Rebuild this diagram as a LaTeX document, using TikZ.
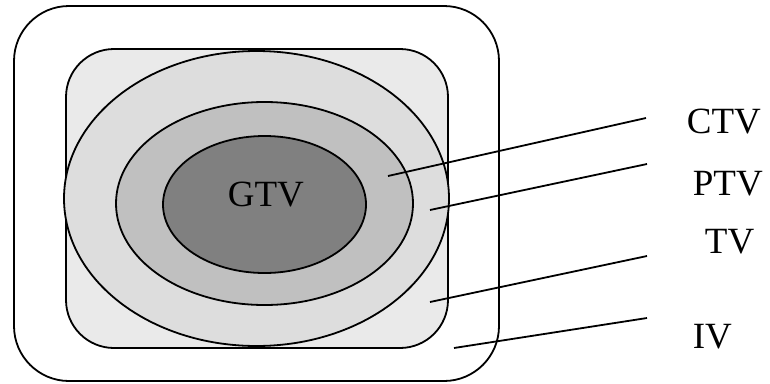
\documentclass[tikz,border=0pt]{standalone}
\usepackage{fontspec}
\setmainfont{Liberation Serif}
\usepackage{tikz}
\definecolor{zonetv}{RGB}{234,234,234}
\definecolor{zonectv}{RGB}{221,221,221}
\definecolor{zoneptv}{RGB}{192,192,192}
\definecolor{zonegtv}{RGB}{128,128,128}
\tikzset{lbl/.style={anchor=base west,inner sep=0pt,font=\fontsize{37}{40}\selectfont}}
\begin{document}
\begin{tikzpicture}[x=1pt,y=-1pt,line width=1.8pt]
\useasboundingbox (0,0) rectangle (770,383);
\draw [rounded corners=55pt, fill=white] (14,6) rectangle (499,381);
\draw [rounded corners=48pt, fill=zonetv] (66,49) rectangle (448,348);
\draw [fill=zonectv] (256.5,198.5) ellipse [x radius=192.5pt, y radius=147.5pt];
\draw [fill=zoneptv] (264.5,203.5) ellipse [x radius=148.5pt, y radius=101.5pt];
\draw [fill=zonegtv] (264.5,204.5) ellipse [x radius=101.5pt, y radius=68.5pt];
\node [lbl] (gtv) at (227,206) {GTV};
\node [lbl] (ctv) at (686,133) {CTV};
\node [lbl] (ptv) at (692,195) {PTV};
\node [lbl] (tv) at (704,253) {TV};
\node [lbl] (iv) at (692,348) {IV};
\coordinate (ctvin) at (388,176);
\coordinate (ctvend) at (646,118);
\coordinate (ptvin) at (430,210);
\coordinate (ptvend) at (647,164);
\coordinate (tvin) at (430,302);
\coordinate (tvend) at (647,256);
\coordinate (ivin) at (454,348);
\coordinate (ivend) at (647,318);
\draw (ctvin) -- (ctvend);
\draw (ptvin) -- (ptvend);
\draw (tvin) -- (tvend);
\draw (ivin) -- (ivend);
\end{tikzpicture}
\end{document}
